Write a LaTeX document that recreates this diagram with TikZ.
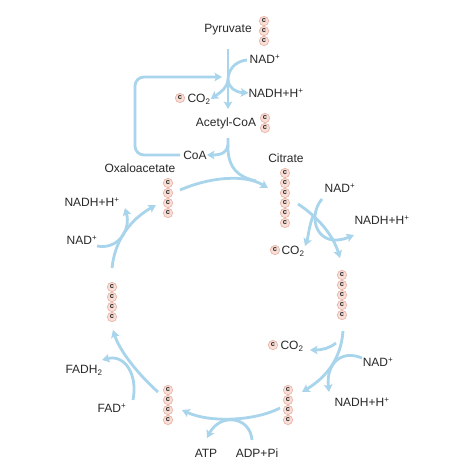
\documentclass[tikz,border=0pt]{standalone}
\usepackage{fontspec}
\setmainfont{Liberation Sans}
\usetikzlibrary{arrows.meta}
\definecolor{flow}{RGB}{168,212,236}
\definecolor{ink}{RGB}{40,40,40}
\definecolor{cfill}{RGB}{248,222,214}
\definecolor{cline}{RGB}{232,178,162}
\begin{document}
\begin{tikzpicture}[x=1pt,y=-1pt,
  lbl/.style={font=\fontsize{12}{14}\selectfont, text=ink, inner sep=0pt},
  carb/.style={circle, fill=cfill, draw=cline, line width=0.6pt, minimum size=9.4pt, inner sep=0pt, font=\fontsize{7.5}{8}\selectfont\bfseries, text=ink},
  flowline/.style={draw=flow, line width=2.8pt},
  arr/.style={flowline, -{Stealth[length=7.5pt,width=8.5pt,inset=1.5pt]}},
]
\useasboundingbox (0,0) rectangle (474,474);
\fill[white] (0,0) rectangle (474,474);

% ---------- labels ----------
\node[lbl] (pyr) at (228,30) {Pyruvate};
\node[lbl] (nad1) at (265,59) {NAD\textsuperscript{+}};
\node[lbl] (nadh1) at (276,93) {NADH+H\textsuperscript{+}};
\node[carb] (cco1) at (180,98) {c};
\node[lbl] (co1) at (199,99) {CO\textsubscript{2}};
\node[lbl] (acoa) at (226,123) {Acetyl-CoA};
\node[lbl] (coa) at (195,155) {CoA};
\node[lbl] (oxa) at (140,168) {Oxaloacetate};
\node[lbl] (citr) at (286,158) {Citrate};
\node[lbl] (nad2) at (340,188) {NAD\textsuperscript{+}};
\node[lbl] (nadh2) at (382,220) {NADH+H\textsuperscript{+}};
\node[carb] (cco2) at (275,250) {c};
\node[lbl] (co2) at (293,251) {CO\textsubscript{2}};
\node[carb] (cco3) at (273,345) {c};
\node[lbl] (co3) at (292,346) {CO\textsubscript{2}};
\node[lbl] (nad3) at (378,362) {NAD\textsuperscript{+}};
\node[lbl] (nadh3) at (362,402) {NADH+H\textsuperscript{+}};
\node[lbl] (atp) at (206,453) {ATP};
\node[lbl] (adp) at (257,453) {ADP+Pi};
\node[lbl] (fadh) at (84,370) {FADH\textsubscript{2}};
\node[lbl] (fad) at (112,408) {FAD\textsuperscript{+}};
\node[lbl] (nad4) at (82,240) {NAD\textsuperscript{+}};
\node[lbl] (nadh4) at (92,202) {NADH+H\textsuperscript{+}};

% ---------- carbon stacks ----------
\foreach \i in {1,...,3} \node[carb] (pc\i) at (264,{11+10*\i}) {c};
\foreach \i in {1,...,2} \node[carb] (ac\i) at (265,{108+10*\i}) {c};
\foreach \i in {1,...,4} \node[carb] (oc\i) at (168,{173+10*\i}) {c};
\foreach \i in {1,...,6} \node[carb] (cc\i) at (285,{163+10*\i}) {c};
\foreach \i in {1,...,5} \node[carb] (fc\i) at (342,{265+10*\i}) {c};
\foreach \i in {1,...,4} \node[carb] (rc\i) at (288,{380+10*\i}) {c};
\foreach \i in {1,...,4} \node[carb] (lc\i) at (168,{380+10*\i}) {c};
\foreach \i in {1,...,4} \node[carb] (mc\i) at (112,{277+10*\i}) {c};

% ---------- coordinates ----------
\coordinate (t0) at (228,49);
\coordinate (t1) at (228,109);
\coordinate (tf) at (228,80);
\coordinate (tn) at (247,60);
\coordinate (a0) at (228,138);
\coordinate (a1) at (228,145);
\coordinate (aj) at (256,181);
\coordinate (loopS) at (180,155);
\coordinate (loopE) at (222,77);
\coordinate (o0) at (180,190);
\coordinate (c1) at (268,188);
\coordinate (k0) at (298,204);
\coordinate (k1) at (340,258);
\coordinate (kb) at (313,216);
\coordinate (kn) at (322,199);
\coordinate (kh) at (354,235);
\coordinate (kc) at (305,246);
\coordinate (s0) at (343,331);
\coordinate (s1) at (302,392);
\coordinate (sb) at (336,343);
\coordinate (sc) at (310,350);
\coordinate (sn) at (362,358);
\coordinate (sh) at (329,392);
\coordinate (b0) at (280,408);
\coordinate (b1) at (182,410);
\coordinate (bp) at (252,440);
\coordinate (ba) at (207,438);
\coordinate (l0) at (158,392);
\coordinate (l1) at (113,330);
\coordinate (lf) at (133,400);
\coordinate (lh) at (102,360);
\coordinate (m0) at (112,268);
\coordinate (m1) at (156,205);
\coordinate (mn) at (97,246);
\coordinate (mh) at (125,208);

% ---------- top: pyruvate -> acetyl-CoA ----------
\draw[arr] (t0) -- (t1);
\path[flowline] (tn) .. controls (236,61) and (228,69) .. (tf);
\draw[arr] (tf) .. controls (229,88) and (235,92) .. (nadh1.west);
\draw[arr] (tf) .. controls (227,88) and (221,92) .. (co1.east);

% ---------- acetyl-CoA into cycle, CoA recycled ----------
\path[flowline] (a0) -- (228,150) .. controls (229,168) and (238,177) .. (aj);
\draw[arr] (a1) .. controls (227,152) and (222,155) .. (coa.east);
\draw[arr, rounded corners=9pt] (loopS) -- (135,155) -- (135,77) -- (loopE);

% ---------- oxaloacetate -> citrate ----------
\draw[arr] (o0) .. controls (210,177) and (245,174) .. (c1);

% ---------- citrate -> 5C ----------
\draw[arr] (k0) .. controls (318,217) and (333,235) .. (k1);
\draw[arr] (kn) .. controls (306,218) and (318,250) .. (kh);
\draw[arr] (kb) .. controls (309,226) and (308,238) .. (kc);

% ---------- 5C -> 4C ----------
\draw[arr] (s0) .. controls (341,360) and (325,378) .. (s1);
\draw[arr] (sb) .. controls (330,348) and (322,350) .. (sc);
\draw[arr] (sn) .. controls (340,349) and (326,365) .. (sh);

% ---------- 4C -> 4C (ATP) ----------
\draw[arr] (b0) .. controls (255,421) and (210,423) .. (b1);
\draw[arr] (bp) .. controls (250,416) and (220,413) .. (ba);

% ---------- 4C -> 4C (FAD) ----------
\draw[arr] (l0) .. controls (140,376) and (120,352) .. (l1);
\draw[arr] (lf) .. controls (138,375) and (125,354) .. (lh);

% ---------- 4C -> oxaloacetate (NAD) ----------
\draw[arr] (m0) .. controls (115,240) and (130,220) .. (m1);
\draw[arr] (mn) .. controls (118,250) and (131,230) .. (mh);
\end{tikzpicture}
\end{document}
